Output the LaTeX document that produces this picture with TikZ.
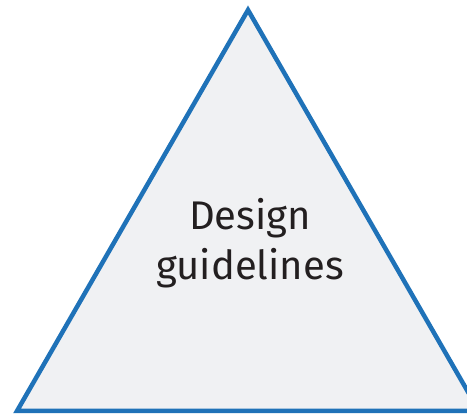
\documentclass[tikz,border=0pt]{standalone}
\usepackage{fontspec}
\setsansfont{Fira Sans}
\usepackage{tikz}
\usetikzlibrary{positioning}

\definecolor{edgeblue}{HTML}{1F72B8}
\definecolor{panelgrey}{HTML}{F0F1F3}
\definecolor{inkdark}{HTML}{231F20}

\begin{document}
\begin{tikzpicture}[
    x=1pt, y=-1pt,
    pyramid/.style={draw=edgeblue, line width=4.5pt, fill=panelgrey, line join=miter},
    label/.style={align=center, text=inkdark, font=\sffamily\fontsize{40}{50}\selectfont, inner sep=0pt}
]

% Canvas of the reference size
\useasboundingbox (0,0) rectangle (467,414);
\clip (0,0) rectangle (467,414);

% Triangle corners
\coordinate (apex)  at (248,10);
\coordinate (left)  at (17,411);
\coordinate (right) at (479,411);

\draw[pyramid] (apex) -- (left) -- (right) -- cycle;

% Title
\node[label, anchor=base] (guide) at (250,280) {Design\\guidelines};

\end{tikzpicture}
\end{document}
